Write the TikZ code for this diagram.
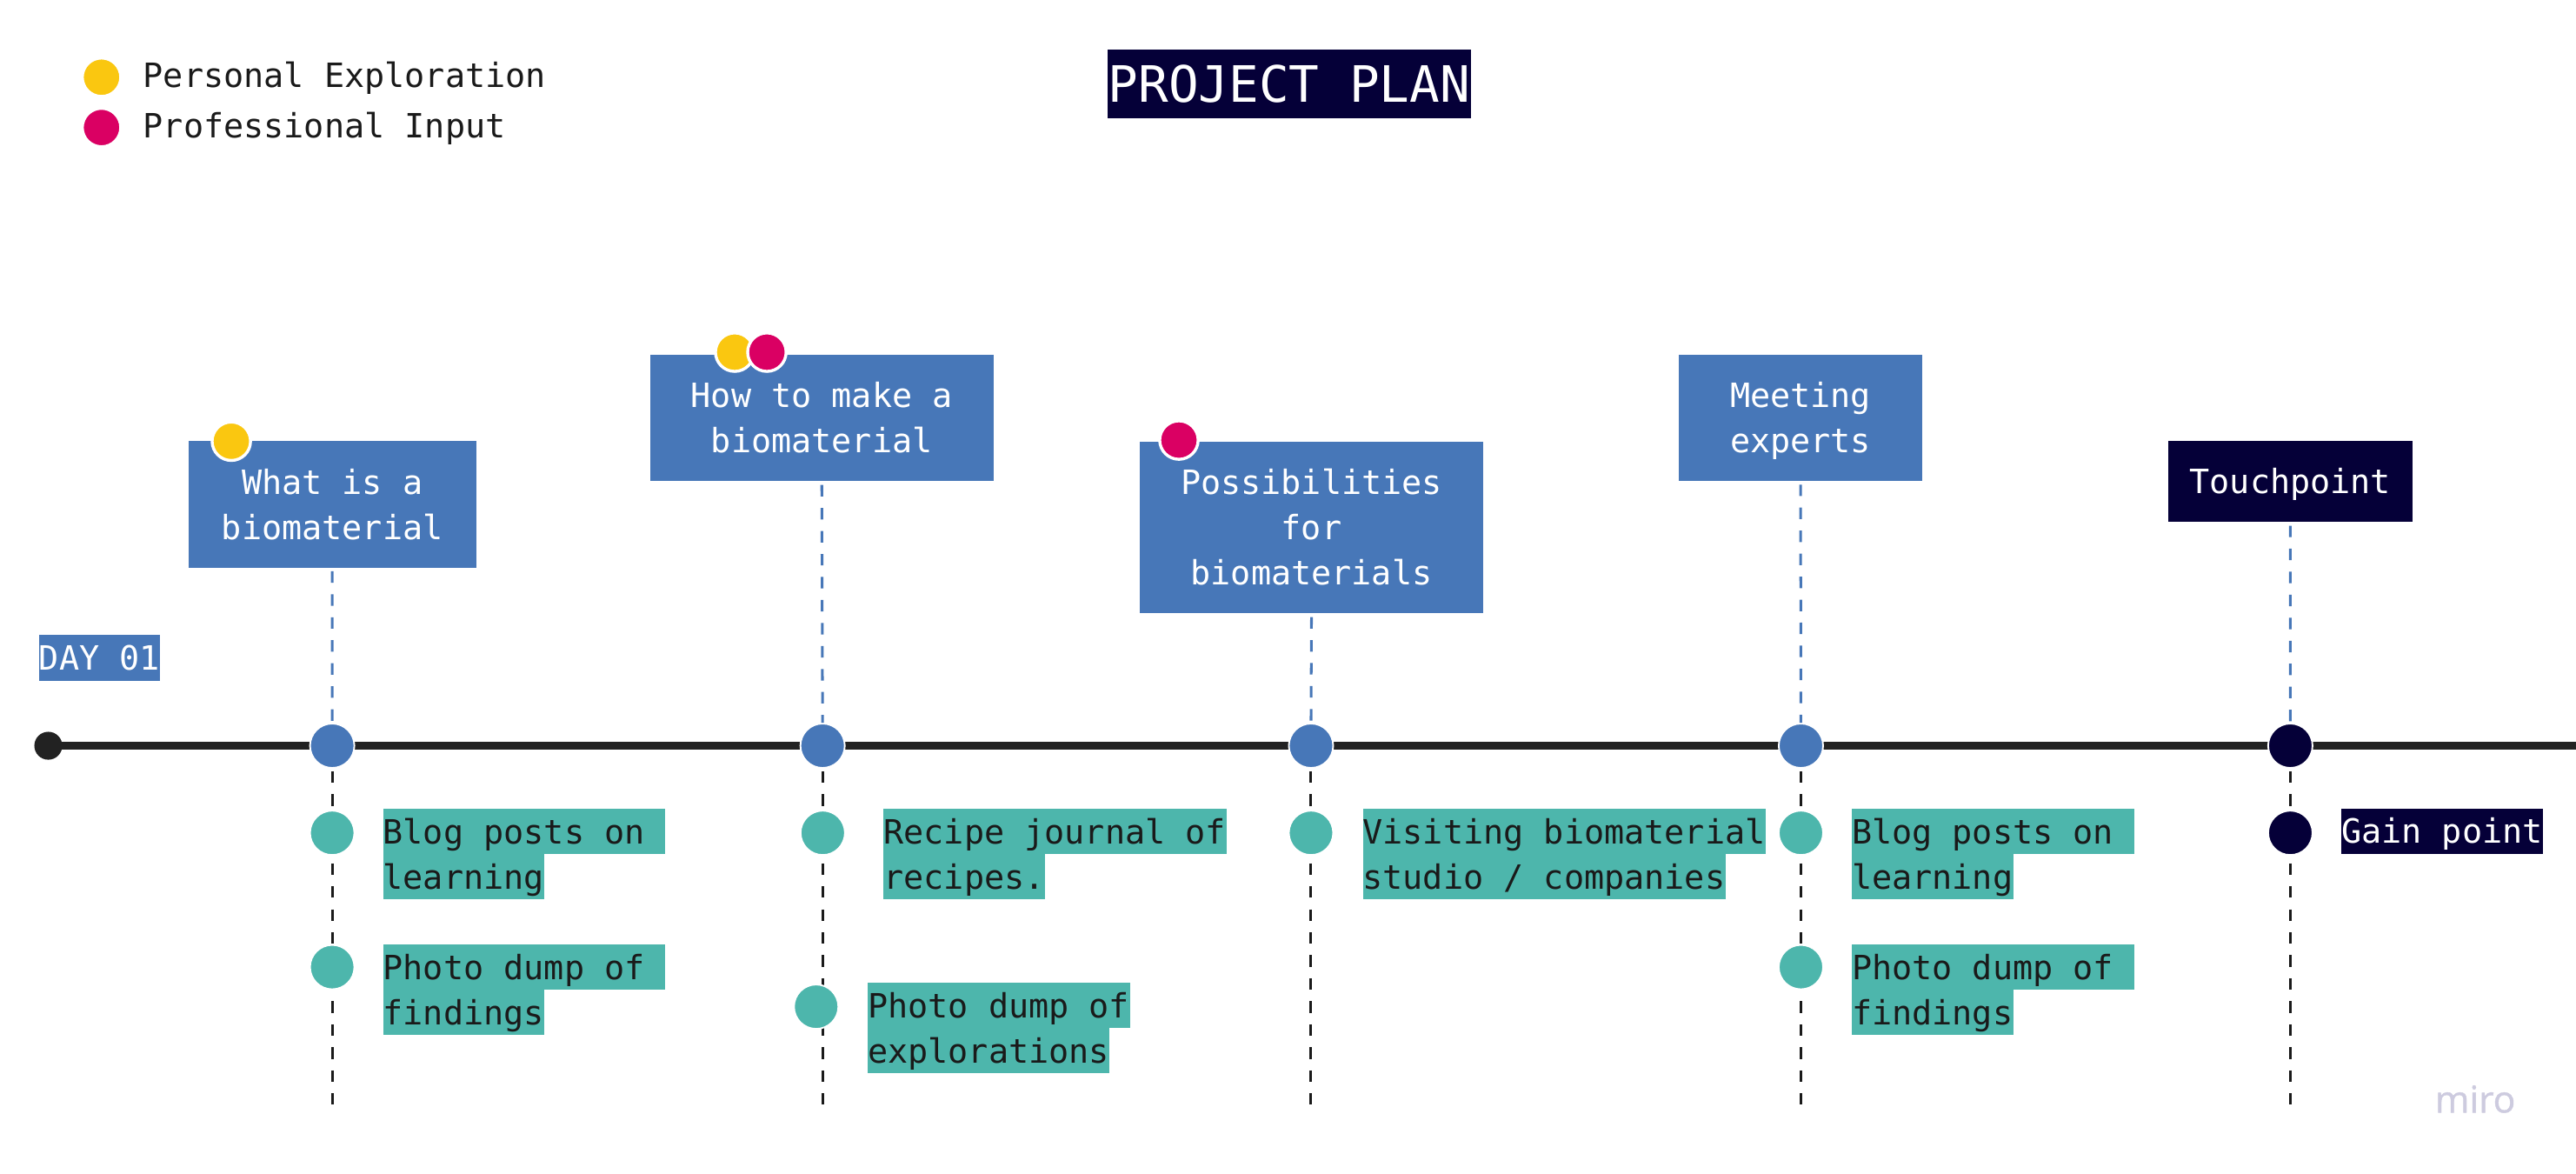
\documentclass[tikz,border=0pt]{standalone}
\usepackage{fontspec}
\newfontfamily\mono{DejaVu Sans Mono}
\newfontfamily\logofont{Open Sans}[FakeBold=1]
\definecolor{mblue}{HTML}{4777B8}
\definecolor{mnavy}{HTML}{050038}
\definecolor{mteal}{HTML}{4DB6AC}
\definecolor{myellow}{HTML}{FAC710}
\definecolor{mpink}{HTML}{DA0063}
\definecolor{mink}{HTML}{1A1A1A}
\definecolor{mline}{HTML}{222222}
\definecolor{mlogo}{HTML}{CDCBDF}
\begin{document}
\begin{tikzpicture}[x=1pt,y=-1pt,
  txt/.style={font=\mono\fontsize{20.35}{27.5}\selectfont,
    execute at begin node={\spaceskip=12.252pt plus 0pt minus 0pt\xspaceskip=12.252pt plus 0pt minus 0pt\relax}},
  plate/.style n args={4}{rectangle, fill=#1, inner sep=0pt, text width=#2, minimum height=#3,
    txt, text=white, align=center, text height=14.8pt, text depth=#4},
  hl/.style 2 args={rectangle, txt, fill=#1, inner sep=0pt, minimum height=27.5pt,
    text height=14.8pt, text depth=0pt, anchor=north west, align=left, text width=#2},
  tdot/.style={circle, fill=#1, draw=white, line width=1pt, minimum size=27pt, inner sep=0pt},
  tagdot/.style={circle, fill=#1, draw=white, line width=1.8pt, minimum size=23.4pt, inner sep=0pt},
  timeline/.style={draw=mline, line width=4.4pt},
  bluedash/.style={draw=mblue, line width=1.6pt, dash pattern=on 7pt off 7pt, shorten <=2pt},
  blackdash/.style={draw=mink, line width=1.6pt, dash pattern=on 7pt off 7pt, shorten <=1.5pt},
]
\fill[white] (0,0) rectangle (1568,713.9);
\useasboundingbox (0,0) rectangle (1568,713.9);

% legend
\node[tagdot=myellow] (lgy) at (61.8,47) {};
\node[tagdot=mpink] (lgp) at (61.8,77.6) {};
\node[txt, text=mink, anchor=base west, inner sep=0pt] (lg1) at (87,53.3) {Personal Exploration};
\node[txt, text=mink, anchor=base west, inner sep=0pt] (lg2) at (87,83.8) {Professional Input};

% title
\node[rectangle, fill=mnavy, text=white, inner sep=0pt, minimum width=221pt, minimum height=41.5pt,
  text height=22.2pt, text depth=0pt, font=\mono\fontsize{30.5}{36}\selectfont] (title) at (784.7,51.05) {PROJECT PLAN};

% day label
\node[hl={mblue}{73.8pt}, text=white, minimum height=28pt] (day) at (23.6,386) {DAY 01};

% timeline
\node[circle, fill=mline, minimum size=17pt, inner sep=0pt] (start) at (29.4,453.8) {};
\coordinate (tlend) at (1568,453.8);
\draw[timeline] (start.center) -- (tlend);

\node[tdot=mblue] (t1) at (202.2,453.8) {};
\node[tdot=mblue] (t2) at (500.7,453.8) {};
\node[tdot=mblue] (t3) at (798,453.8) {};
\node[tdot=mblue] (t4) at (1096.2,453.8) {};
\node[tdot=mnavy] (t5) at (1394.1,453.8) {};

\coordinate (e1) at (202.2,678.5);
\coordinate (e2) at (500.7,678.5);
\coordinate (e3) at (798,678.5);
\coordinate (e4) at (1096.2,678.5);
\coordinate (e5) at (1394.1,678.5);
\draw[blackdash] (t1.south) -- (e1);
\draw[blackdash] (t2.south) -- (e2);
\draw[blackdash] (t3.south) -- (e3);
\draw[blackdash] (t4.south) -- (e4);
\draw[blackdash] (t5.south) -- (e5);

% sub points
\node[tdot=mteal] (p1a) at (202.2,506.8) {};
\node[tdot=mteal] (p1b) at (202.2,588.5) {};
\node[tdot=mteal] (p2a) at (500.8,506.8) {};
\node[tdot=mteal] (p2b) at (496.8,612.6) {};
\node[tdot=mteal] (p3a) at (798,506.8) {};
\node[tdot=mteal] (p4a) at (1096.2,506.8) {};
\node[tdot=mteal] (p4b) at (1096.2,588.5) {};
\node[tdot=mnavy] (p5a) at (1394.1,506.8) {};

% plates
\node[plate={mblue}{175.1pt}{76.9pt}{27.5pt}] (b1) at (202.25,306.95) {What is a\\biomaterial};
\node[plate={mblue}{209pt}{77pt}{27.5pt}] (b2) at (500.2,254.4) {How to make a\\biomaterial};
\node[plate={mblue}{209pt}{104.7pt}{55pt}] (b3) at (798.3,320.95) {Possibilities\\for\\biomaterials};
\node[plate={mblue}{148.4pt}{76.7pt}{27.5pt}] (b4) at (1096,254.35) {Meeting\\experts};
\node[plate={mnavy}{148.7pt}{49.5pt}{0pt}] (b5) at (1394.05,292.95) {Touchpoint};

\draw[bluedash] (b1.south) -- (t1.north);
\draw[bluedash] (b2.south) -- (t2.north);
\draw[bluedash] (b3.south) -- (t3.north);
\draw[bluedash] (b4.south) -- (t4.north);
\draw[bluedash] (b5.south) -- (t5.north);

% tag dots
\node[tagdot=myellow] (d1) at (140.8,268.5) {};
\node[tagdot=myellow] (d2y) at (447.2,214.3) {};
\node[tagdot=mpink] (d2p) at (466.8,214.3) {};
\node[tagdot=mpink] (d3) at (717.6,267.8) {};

% highlighted notes
\node[hl={mteal}{171.8pt}, text=mink] (n1a) at (233,492) {Blog posts on};
\node[hl={mteal}{98.3pt}, text=mink] (n1b) at (233,519.5) {learning};
\node[hl={mteal}{171.8pt}, text=mink] (n1c) at (233,574.7) {Photo dump of};
\node[hl={mteal}{98.3pt}, text=mink] (n1d) at (233,602.2) {findings};

\node[hl={mteal}{208.55pt}, text=mink] (n2a) at (537.7,492) {Recipe journal of};
\node[hl={mteal}{98.3pt}, text=mink] (n2b) at (537.7,519.5) {recipes.};
\node[hl={mteal}{159.55pt}, text=mink] (n2c) at (528,598) {Photo dump of};
\node[hl={mteal}{147.3pt}, text=mink] (n2d) at (528,625.5) {explorations};

\node[hl={mteal}{245.3pt}, text=mink] (n3a) at (829.3,492) {Visiting biomaterial};
\node[hl={mteal}{220.8pt}, text=mink] (n3b) at (829.3,519.5) {studio / companies};

\node[hl={mteal}{171.8pt}, text=mink] (n4a) at (1127,492) {Blog posts on};
\node[hl={mteal}{98.3pt}, text=mink] (n4b) at (1127,519.5) {learning};
\node[hl={mteal}{171.8pt}, text=mink] (n4c) at (1127,574.7) {Photo dump of};
\node[hl={mteal}{98.3pt}, text=mink] (n4d) at (1127,602.2) {findings};

\node[hl={mnavy}{122.8pt}, text=white] (gain) at (1425,491.8) {Gain point};

% watermark
\node[anchor=base west, inner sep=0pt, text=mlogo, font=\logofont\fontsize{22.5}{27}\selectfont] (logo) at (1482,677) {miro};
\end{tikzpicture}
\end{document}
